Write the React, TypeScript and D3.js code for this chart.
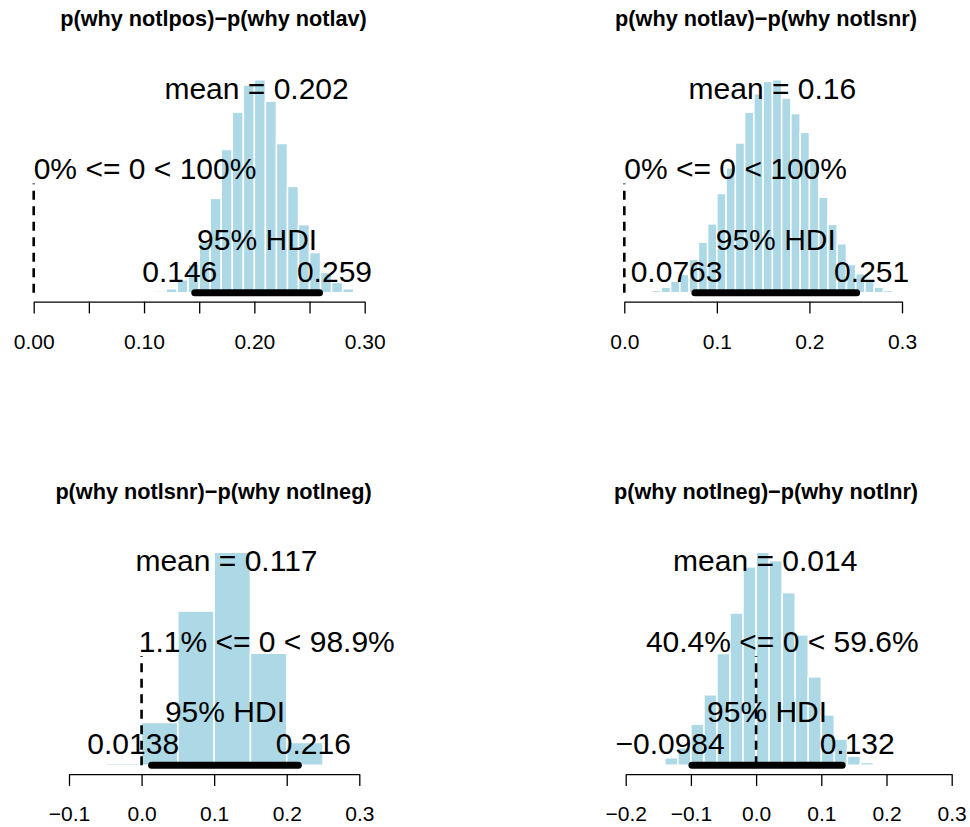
import { useEffect, useRef } from "react";
import * as d3 from "d3";

// titles of the four posterior difference plots
const titles = [
  "p(why notlpos)\u2212p(why notlav)",
  "p(why notlav)\u2212p(why notlsnr)",
  "p(why notlsnr)\u2212p(why notlneg)",
  "p(why notlneg)\u2212p(why notlnr)",
];

// histogram break points (left edges + final right edge)
const breaks1 = [0.11, 0.12, 0.13, 0.14, 0.15, 0.16, 0.17, 0.18, 0.19, 0.2, 0.21, 0.22, 0.23, 0.24, 0.25, 0.26, 0.27, 0.28, 0.29, 0.3];
const breaks2 = [0.02, 0.03, 0.04, 0.05, 0.06, 0.07, 0.08, 0.09, 0.1, 0.11, 0.12, 0.13, 0.14, 0.15, 0.16, 0.17, 0.18, 0.19, 0.2, 0.21, 0.22, 0.23, 0.24, 0.25, 0.26, 0.27, 0.28, 0.29, 0.3];
const breaks3 = [-0.05, 0, 0.05, 0.1, 0.15, 0.2, 0.25, 0.3];
const breaks4 = [-0.16, -0.14, -0.12, -0.1, -0.08, -0.06, -0.04, -0.02, 0, 0.02, 0.04, 0.06, 0.08, 0.1, 0.12, 0.14, 0.16, 0.18, 0.2];

// densities per bin
const density1 = [0.11, 0.26, 0.85, 1.85, 3.31, 6.18, 9.38, 11.82, 13.6, 13.95, 12.54, 9.77, 6.96, 4.46, 2.63, 1.33, 0.67, 0.26, 0.07];
const density2 = [0.04, 0.1, 0.24, 0.5, 0.79, 1.44, 2.18, 2.97, 4.28, 5.39, 6.46, 7.79, 8.58, 9.12, 9.19, 8.4, 7.73, 6.92, 5.75, 4.12, 2.95, 2.11, 1.22, 0.82, 0.5, 0.24, 0.1, 0.04];
const density3 = [0.07, 1.56, 5.63, 7.78, 4.09, 0.83, 0.04];
const density4 = [0.04, 0.25, 0.58, 1.37, 2.35, 3.73, 5.08, 6.62, 7.11, 6.83, 5.76, 4.35, 2.95, 1.68, 0.87, 0.3, 0.09, 0.03];

const means = [0.202, 0.16, 0.117, 0.014];
const hdiLow = [0.146, 0.0763, 0.0138, -0.0984];
const hdiHigh = [0.259, 0.251, 0.216, 0.132];
const pctBelow = [0, 0, 1.1, 40.4];
const pctAbove = [100, 100, 98.9, 59.6];
const compVal = 0;

// axis ticks and their labels
const ticks1 = [0, 0.05, 0.1, 0.15, 0.2, 0.25, 0.3];
const tickLabels1 = ["0.00", "", "0.10", "", "0.20", "", "0.30"];
const ticks2 = [0, 0.1, 0.2, 0.3];
const tickLabels2 = ["0.0", "0.1", "0.2", "0.3"];
const ticks3 = [-0.1, 0, 0.1, 0.2, 0.3];
const tickLabels3 = ["\u22120.1", "0.0", "0.1", "0.2", "0.3"];
const ticks4 = [-0.2, -0.1, 0, 0.1, 0.2, 0.3];
const tickLabels4 = ["\u22120.2", "\u22120.1", "0.0", "0.1", "0.2", "0.3"];

const breaks = [breaks1, breaks2, breaks3, breaks4];
const densities = [density1, density2, density3, density4];
const tickSets = [ticks1, ticks2, ticks3, ticks4];
const tickLabelSets = [tickLabels1, tickLabels2, tickLabels3, tickLabels4];

// pixel layout of each panel (x range of the axis, row offset, title centre)
const layout = [
  { range: [33.7, 364.7], row: 0, titleX: 213.5 },
  { range: [624.3, 902], row: 0, titleX: 766 },
  { range: [69, 359.3], row: 472.5, titleX: 213.5 },
  { range: [625.7, 951.7], row: 472.5, titleX: 766 },
];

const FONT = "'Liberation Sans', Arial, Helvetica, sans-serif";
const fmt = (v: number) => String(v).replace("-", "\u2212");

export default function App() {
  const svgRef = useRef<SVGSVGElement>(null);

  useEffect(() => {
    if (!svgRef.current) return;
    const svg = d3.select(svgRef.current);
    svg.selectAll("*").remove();

    const baseY = 292.7;
    const axisY = 301.7;
    const barH = 213;

    layout.forEach((lay, i) => {
      const g = svg.append("g").attr("transform", `translate(0,${lay.row})`);
      const ticks = tickSets[i];
      const br = breaks[i];
      const dens = densities[i];

      const x = d3
        .scaleLinear()
        .domain([ticks[0], ticks[ticks.length - 1]])
        .range(lay.range);
      const yMax = d3.max(dens) as number;
      const y = d3.scaleLinear().domain([0, yMax]).range([baseY, baseY - barH]);

      // title
      g.append("text")
        .attr("x", lay.titleX)
        .attr("y", 26)
        .attr("text-anchor", "middle")
        .attr("font-family", FONT)
        .attr("font-weight", "bold")
        .attr("font-size", 21.7)
        .text(titles[i]);

      // histogram bars
      g.selectAll("rect.bar")
        .data(dens)
        .join("rect")
        .attr("class", "bar")
        .attr("x", (_, j) => x(br[j]))
        .attr("width", (_, j) => x(br[j + 1]) - x(br[j]))
        .attr("y", (d) => y(d))
        .attr("height", (d) => y(0) - y(d))
        .attr("fill", "#ADD8E6")
        .attr("stroke", "#fff")
        .attr("stroke-width", 1.5);

      // x axis
      const axis = d3
        .axisBottom(x)
        .tickValues(ticks)
        .tickSize(11.7)
        .tickSizeOuter(0)
        .tickPadding(20.5)
        .tickFormat((_, j) => tickLabelSets[i][j]);
      const ax = g.append("g").attr("transform", `translate(0,${axisY})`).call(axis);
      ax.attr("font-family", FONT).attr("font-size", 21);
      ax.selectAll("path, line").attr("stroke-width", 1.3);

      const addText = (txt: string, xPos: number, yPos: number, frac: number) => {
        const t = g
          .append("text")
          .attr("y", yPos)
          .attr("font-family", FONT)
          .attr("font-size", 30)
          .attr("fill", "#000")
          .text(txt);
        const w = (t.node() as SVGTextElement).getComputedTextLength();
        t.attr("x", xPos - frac * w);
      };

      // mean
      addText(`mean = ${fmt(means[i])}`, x(means[i]), y(yMax * 0.91), 0.5);

      // comparison value line + text
      addText(
        `${pctBelow[i]}% <= ${compVal} < ${pctAbove[i]}%`,
        x(compVal),
        y(yMax * 0.533),
        pctBelow[i] / 100
      );
      g.append("line")
        .attr("x1", x(compVal))
        .attr("x2", x(compVal))
        .attr("y1", y(0))
        .attr("y2", y(yMax * 0.513))
        .attr("stroke", "#000")
        .attr("stroke-width", 2.6)
        .attr("stroke-dasharray", "9,6.5");

      // HDI
      g.append("line")
        .attr("x1", x(hdiLow[i]))
        .attr("x2", x(hdiHigh[i]))
        .attr("y1", y(0))
        .attr("y2", y(0))
        .attr("stroke", "#000")
        .attr("stroke-width", 7)
        .attr("stroke-linecap", "round");
      addText("95% HDI", x((hdiLow[i] + hdiHigh[i]) / 2), y(0) - 43, 0.5);
      addText(fmt(hdiLow[i]), x(hdiLow[i]), y(0) - 11, 0.7);
      addText(fmt(hdiHigh[i]), x(hdiHigh[i]), y(0) - 11, 0.3);
    });
  }, []);

  return (
    <svg
      ref={svgRef}
      width={970}
      height={827}
      style={{ position: "absolute", left: 0, top: 0, background: "#fff" }}
    />
  );
}
